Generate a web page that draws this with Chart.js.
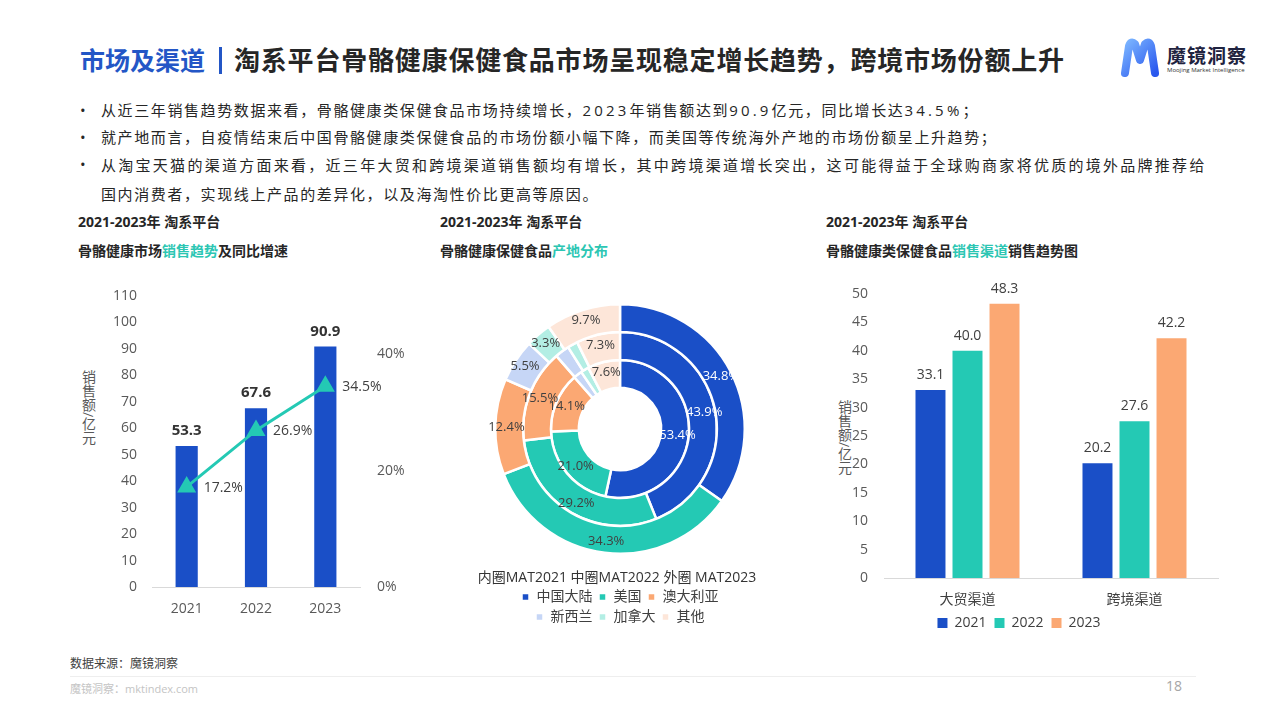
<!DOCTYPE html>
<html>
<head>
<meta charset="utf-8">
<script src="https://cdn.jsdelivr.net/npm/chart.js@4.4.1/dist/chart.umd.min.js"></script>
<style>
  body { margin: 0; background: #fff; }
  #page { position: relative; width: 1280px; height: 720px; overflow: hidden; background: #fff;
    font-family: "Open Sans", "Noto Sans CJK SC", sans-serif; color: #262626; }
  .abs { position: absolute; }
  #title { left: 80px; top: 40px; font-size: 26px; font-weight: bold; line-height: 40px; white-space: nowrap; letter-spacing: 0.8px; }
  #title .blue { color: #2356c6; font-size: 25px; letter-spacing: 0; }
  #title .bar { display: inline-block; width: 3px; height: 27px; background: #2356c6; margin: 0 12px 0 14px; vertical-align: -4px; }
  .bullet { left: 80px; width: 1126px; font-size: 15px; line-height: 27px; letter-spacing: 1.6px; }
  .bullet span.dot { position: absolute; left: 0; top: 0; font-size: 15px; }
  .bullet div { margin-left: 21px; white-space: nowrap; }
  .bullet div.just { white-space: normal; text-align: justify; text-align-last: justify; }
  .num { letter-spacing: 3.2px; }
  .sub { font-size: 14px; font-weight: bold; line-height: 20px; color: #262626; white-space: nowrap; }
  .sub .hl { color: #2cc6b3; }
  .ytitle { writing-mode: vertical-rl; font-size: 14px; color: #595959; line-height: 16px; }
  .box { position: absolute; }
</style>
</head>
<body>
<div id="page">
  <div id="title" class="abs"><span class="blue">市场及渠道</span><span class="bar"></span>淘系平台骨骼健康保健食品市场呈现稳定增长趋势，跨境市场份额上升</div>

  <svg class="abs" style="left:1118px;top:38px;" width="44" height="40" viewBox="0 0 44 40">
    <defs><linearGradient id="lg" x1="0" y1="0" x2="1" y2="1">
      <stop offset="0" stop-color="#7ab4ff"/><stop offset="1" stop-color="#2a58ee"/></linearGradient></defs>
    <path d="M7 35 L11 8 Q13 2 17 6 L22 22 L27 6 Q31 2 33 8 L37 35" fill="none" stroke="url(#lg)" stroke-width="8" stroke-linecap="round" stroke-linejoin="round"/>
  </svg>
  <div class="abs" style="left:1167px;top:45px;font-size:19px;font-weight:bold;line-height:22px;color:#1f2340;letter-spacing:1px;">魔镜洞察</div>
  <div class="abs" style="left:1167px;top:66px;font-size:6px;line-height:8px;color:#333;white-space:nowrap;">Moojing Market Intelligence</div>

  <div class="abs bullet" style="top:97px;"><span class="dot">•</span><div>从近三年销售趋势数据来看，骨骼健康类保健食品市场持续增长，<span class="num">2023</span>年销售额达到<span class="num">90.9</span>亿元，同比增长达<span class="num">34.5%</span>；</div></div>
  <div class="abs bullet" style="top:124px;"><span class="dot">•</span><div>就产地而言，自疫情结束后中国骨骼健康类保健食品的市场份额小幅下降，而美国等传统海外产地的市场份额呈上升趋势；</div></div>
  <div class="abs bullet" style="top:151px;line-height:29px;"><span class="dot" style="top:-1px;">•</span><div class="just">从淘宝天猫的渠道方面来看，近三年大贸和跨境渠道销售额均有增长，其中跨境渠道增长突出，这可能得益于全球购商家将优质的境外品牌推荐给</div><div>国内消费者，实现线上产品的差异化，以及海淘性价比更高等原因。</div></div>

  <div class="abs sub" style="left:78px;top:212px;">2021-2023年 淘系平台</div>
  <div class="abs sub" style="left:78px;top:241px;">骨骼健康市场<span class="hl">销售趋势</span>及同比增速</div>
  <div class="abs sub" style="left:440px;top:212px;">2021-2023年 淘系平台</div>
  <div class="abs sub" style="left:440px;top:241px;">骨骼健康保健食品<span class="hl">产地分布</span></div>
  <div class="abs sub" style="left:826px;top:212px;">2021-2023年 淘系平台</div>
  <div class="abs sub" style="left:826px;top:241px;">骨骼健康类保健食品<span class="hl">销售渠道</span>销售趋势图</div>

  <div class="abs ytitle" style="left:80px;top:370px;">销售额/亿元</div>
  <div class="abs ytitle" style="left:836px;top:400px;">销售额/亿元</div>

  <div class="box" style="left:60px;top:270px;width:360px;height:360px;"><canvas id="trendChart"></canvas></div>
  <div class="box" style="left:470px;top:270px;width:300px;height:364px;"><canvas id="originChart"></canvas></div>
  <div class="box" style="left:820px;top:270px;width:400px;height:370px;"><canvas id="channelChart"></canvas></div>

  <div class="abs" style="left:470px;top:568px;width:294px;text-align:center;font-size:14px;line-height:18px;color:#333;white-space:nowrap;">内圈MAT2021 中圈MAT2022 外圈 MAT2023</div>

  <div class="abs" style="left:70px;top:655px;font-size:12px;line-height:18px;color:#404040;">数据来源：魔镜洞察</div>
  <div class="abs" style="left:70px;top:676px;width:1126px;height:1px;background:#eeeeee;"></div>
  <div class="abs" style="left:70px;top:681px;font-size:11px;line-height:16px;color:#c4c4c4;">魔镜洞察：mktindex.com</div>
  <div class="abs" style="left:1166px;top:677px;font-size:14px;line-height:18px;color:#a6a6a6;">18</div>
</div>

<script>
// data
const years = ["2021", "2022", "2023"];
const salesTotal = [53.3, 67.6, 90.9];
const growthPct = [17.2, 26.9, 34.5];

const regions = ["中国大陆", "美国", "澳大利亚", "新西兰", "加拿大", "其他"];
const share2021 = [53.4, 21.0, 14.1, 2.0, 1.9, 7.6];
const share2022 = [43.9, 29.2, 15.5, 2.4, 1.7, 7.3];
const share2023 = [34.8, 34.3, 12.4, 5.5, 3.3, 9.7];

const channels = ["大贸渠道", "跨境渠道"];
const channel2021 = [33.1, 20.2];
const channel2022 = [40.0, 27.6];
const channel2023 = [48.3, 42.2];

const BLUE = "#1a4fc7";
const TEAL = "#24c9b4";
const ORANGE = "#fba873";
const regionColors = [BLUE, TEAL, ORANGE, "#c6d6f6", "#b3eee4", "#fde6d9"];
const FONT = '"Open Sans", "Noto Sans CJK SC", sans-serif';

Chart.defaults.font.family = FONT;
Chart.defaults.color = "#595959";
Chart.defaults.animation = false;

// labels above bars / beside points
const valueLabels = {
  id: "valueLabels",
  afterDatasetsDraw(chart) {
    const ctx = chart.ctx;
    chart.data.datasets.forEach((ds, i) => {
      if (!ds.labelFont) return;
      const meta = chart.getDatasetMeta(i);
      ctx.save();
      ctx.font = ds.labelFont;
      ctx.fillStyle = ds.labelColor;
      ctx.textBaseline = "middle";
      meta.data.forEach((el, j) => {
        const txt = ds.data[j].toFixed(1) + (ds.labelSuffix || "");
        if (ds.labelSide === "right") {
          ctx.textAlign = "left";
          ctx.fillText(txt, el.x + 17, el.y + 1);
        } else {
          ctx.textAlign = "center";
          ctx.fillText(txt, el.x, el.y - 15);
        }
      });
      ctx.restore();
    });
  },
};

// percentage labels inside rings, a bit towards the outer edge
const ringLabels = {
  id: "ringLabels",
  afterDatasetsDraw(chart) {
    const ctx = chart.ctx;
    ctx.save();
    ctx.font = "13px " + FONT;
    ctx.textAlign = "center";
    ctx.textBaseline = "middle";
    chart.data.datasets.forEach((ds, i) => {
      chart.getDatasetMeta(i).data.forEach((arc, j) => {
        const v = ds.data[j];
        if (v < 3) return;
        const { x, y, startAngle, endAngle, innerRadius, outerRadius } = arc.getProps(
          ["x", "y", "startAngle", "endAngle", "innerRadius", "outerRadius"]
        );
        const a = (startAngle + endAngle) / 2;
        const r = innerRadius + (outerRadius - innerRadius) * 0.6;
        ctx.fillStyle = j === 0 ? "#ffffff" : "#404040";
        ctx.fillText(v.toFixed(1) + "%", x + Math.cos(a) * r, y + Math.sin(a) * r);
      });
    });
    ctx.restore();
  },
};

// left: bar + line
new Chart(document.querySelector("#trendChart"), {
  type: "bar",
  data: {
    labels: years,
    datasets: [
      {
        type: "line",
        data: growthPct,
        yAxisID: "y1",
        borderColor: TEAL,
        backgroundColor: TEAL,
        borderWidth: 3,
        pointStyle: "triangle",
        pointRadius: 8,
        pointBackgroundColor: TEAL,
        pointBorderColor: TEAL,
        order: 0,
        labelFont: "14px " + FONT,
        labelColor: "#404040",
        labelSide: "right",
        labelSuffix: "%",
      },
      {
        type: "bar",
        data: salesTotal,
        yAxisID: "y",
        backgroundColor: BLUE,
        barPercentage: 0.4,
        categoryPercentage: 0.8,
        order: 1,
        labelFont: "bold 15px " + FONT,
        labelColor: "#333333",
      },
    ],
  },
  options: {
    responsive: true,
    maintainAspectRatio: false,
    layout: { padding: { top: 26 } },
    plugins: { legend: { display: false }, tooltip: { enabled: false } },
    scales: {
      x: {
        grid: { display: false },
        border: { color: "#d9d9d9" },
        ticks: { font: { size: 14 }, color: "#595959", padding: 6 },
        afterFit(s) { s.height = 43; },
      },
      y: {
        position: "left",
        min: 0,
        max: 110,
        ticks: { stepSize: 10, font: { size: 14 }, color: "#595959", padding: 7 },
        grid: { display: false },
        border: { display: false },
        afterFit(s) { s.width = 92; },
      },
      y1: {
        position: "right",
        min: 0,
        max: 50,
        ticks: {
          stepSize: 20,
          font: { size: 14 },
          color: "#595959",
          padding: 9,
          callback: (v) => (v === 50 ? "" : v + "%"),
        },
        grid: { display: false },
        border: { display: false },
        afterFit(s) { s.width = 60; },
      },
    },
  },
  plugins: [valueLabels],
});

// middle: nested doughnut (outer ring first)
new Chart(document.querySelector("#originChart"), {
  type: "doughnut",
  data: {
    labels: regions,
    datasets: [
      { label: "MAT2023", data: share2023, backgroundColor: regionColors, borderColor: "#fff", borderWidth: 2.5 },
      { label: "MAT2022", data: share2022, backgroundColor: regionColors, borderColor: "#fff", borderWidth: 2.5 },
      { label: "MAT2021", data: share2021, backgroundColor: regionColors, borderColor: "#fff", borderWidth: 2.5 },
    ],
  },
  options: {
    responsive: true,
    maintainAspectRatio: false,
    cutout: "33%",
    layout: { padding: { top: 4, left: 24, right: 24 } },
    plugins: {
      tooltip: { enabled: false },
      legend: {
        position: "bottom",
        labels: { boxWidth: 8, boxHeight: 8, padding: 6, color: "#404040", font: { size: 14 } },
      },
    },
  },
  plugins: [ringLabels],
});

// right: grouped bars
new Chart(document.querySelector("#channelChart"), {
  type: "bar",
  data: {
    labels: channels,
    datasets: [
      { label: "2021", data: channel2021, backgroundColor: BLUE, labelFont: "14px " + FONT, labelColor: "#404040" },
      { label: "2022", data: channel2022, backgroundColor: TEAL, labelFont: "14px " + FONT, labelColor: "#404040" },
      { label: "2023", data: channel2023, backgroundColor: ORANGE, labelFont: "14px " + FONT, labelColor: "#404040" },
    ],
  },
  options: {
    responsive: true,
    maintainAspectRatio: false,
    barPercentage: 0.81,
    categoryPercentage: 0.665,
    layout: { padding: { top: 24, right: 2 } },
    plugins: {
      tooltip: { enabled: false },
      legend: {
        position: "bottom",
        labels: { boxWidth: 10, boxHeight: 10, padding: 8, color: "#404040", font: { size: 14 } },
      },
    },
    scales: {
      x: {
        grid: { display: false },
        border: { color: "#d9d9d9" },
        ticks: { font: { size: 14 }, color: "#404040", padding: 6 },
        afterFit(s) { s.height = 30; },
      },
      y: {
        min: 0,
        max: 50,
        ticks: { stepSize: 5, font: { size: 14 }, color: "#595959", padding: 8 },
        grid: { display: false },
        border: { display: false },
        afterFit(s) { s.width = 64; },
      },
    },
  },
  plugins: [valueLabels],
});
</script>
</body>
</html>
